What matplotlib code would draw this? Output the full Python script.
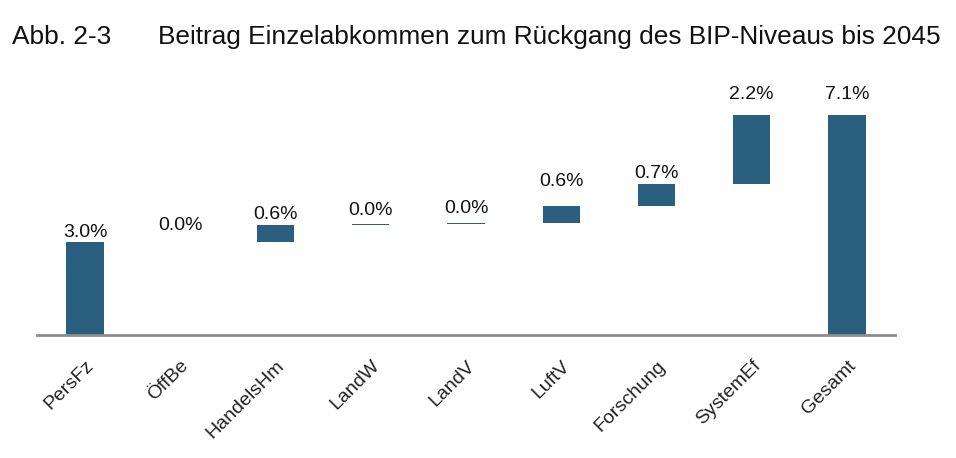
import matplotlib.pyplot as plt
import matplotlib.transforms as mtransforms

categories = ['PersFz', 'ÖffBe', 'HandelsHm', 'LandW', 'LandV',
              'LuftV', 'Forschung', 'SystemEf', 'Gesamt']
contrib = [3.0, 0.0, 0.56, 0.01, 0.03, 0.58, 0.71, 2.2]
labels = ['3.0%', '0.0%', '0.6%', '0.0%', '0.0%', '0.6%', '0.7%', '2.2%', '7.1%']
# extra space between bar top and its label, in points
label_gap = [1, 6, 1, 4, 5, 11, 1, 9, 9]

bar_color = '#2a5f80'

bottoms, heights = [], []
level = 0.0
for v in contrib:
    bottoms.append(level)
    heights.append(v)
    level += v
bottoms.append(0.0)
heights.append(level)

fig = plt.figure(figsize=(9.56, 4.58), dpi=100)
ax = fig.add_axes([37 / 956, 123 / 458, 858 / 956, 254 / 458])

x = range(len(categories))
ax.bar(x, heights, bottom=bottoms, width=0.39, color=bar_color)
for i, (b, h) in enumerate(zip(bottoms, heights)):
    ax.annotate(labels[i], (i, b + h), xytext=(0, label_gap[i]),
                textcoords='offset points', ha='center', va='bottom',
                fontsize=14, family='Liberation Sans', color='#111111')

ax.set_xlim(-0.504, len(categories) - 1 + 0.504)
ax.set_ylim(0, 8.2)
ax.set_yticks([])
ax.set_xticks(list(x))
ax.set_xticklabels(categories, rotation=45, ha='right', rotation_mode='anchor',
                   fontsize=14, family='Liberation Sans', color='#222222')
offset = mtransforms.ScaledTranslation(4 / 72, 0, fig.dpi_scale_trans)
for lab in ax.get_xticklabels():
    lab.set_transform(lab.get_transform() + offset)
ax.tick_params(axis='x', length=0, pad=16)
for s in ['top', 'right', 'left']:
    ax.spines[s].set_visible(False)
ax.spines['bottom'].set_color('#8c8c8c')
ax.spines['bottom'].set_linewidth(2)

fig.text(12 / 956, 1 - 37 / 458, 'Abb. 2-3', family='Liberation Sans', fontsize=18.9,
         va='center', ha='left', color='#111111')
fig.text(158 / 956, 1 - 37 / 458,
         'Beitrag Einzelabkommen zum Rückgang des BIP-Niveaus bis 2045',
         family='Liberation Sans', fontsize=18.9, va='center', ha='left', color='#111111')

fig.savefig('out.png', dpi=100)
